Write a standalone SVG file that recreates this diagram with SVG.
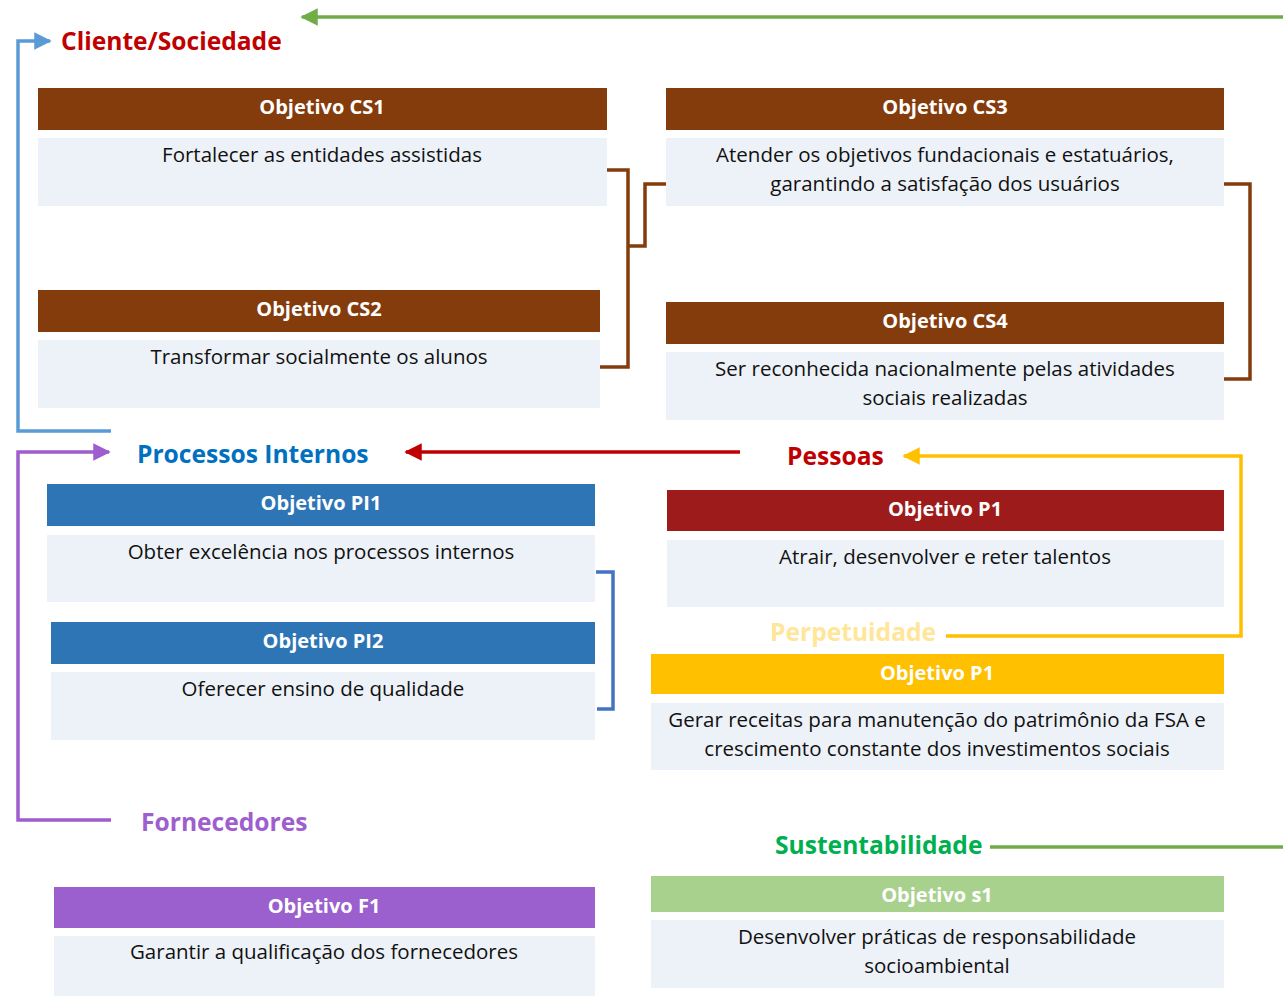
<svg xmlns="http://www.w3.org/2000/svg" width="1283" height="997" viewBox="0 0 1283 997">
<style>
.hd{font-family:"Open Sans","Liberation Sans",sans-serif;font-weight:bold;font-size:20px;fill:#fff;text-anchor:middle}
.bd{font-family:"Open Sans","Liberation Sans",sans-serif;font-size:20.5px;fill:#111;text-anchor:middle}
.body{fill:#EDF1F8}
.sec{font-family:"Open Sans","Liberation Sans",sans-serif;font-weight:bold;font-size:24.6px}
.ln{fill:none;stroke-width:3.5}
</style>
<defs>
<marker id="aB" viewBox="0 0 10 10" refX="9" refY="5" markerWidth="5" markerHeight="5" orient="auto" markerUnits="strokeWidth"><path d="M0,0 L10,5 L0,10z" fill="#5B9BD5"/></marker>
<marker id="aR" viewBox="0 0 10 10" refX="9" refY="5" markerWidth="5" markerHeight="5" orient="auto" markerUnits="strokeWidth"><path d="M0,0 L10,5 L0,10z" fill="#C00000"/></marker>
<marker id="aP" viewBox="0 0 10 10" refX="9" refY="5" markerWidth="5" markerHeight="5" orient="auto" markerUnits="strokeWidth"><path d="M0,0 L10,5 L0,10z" fill="#9E5ECE"/></marker>
<marker id="aY" viewBox="0 0 10 10" refX="9" refY="5" markerWidth="5" markerHeight="5" orient="auto" markerUnits="strokeWidth"><path d="M0,0 L10,5 L0,10z" fill="#FFC000"/></marker>
<marker id="aG" viewBox="0 0 10 10" refX="9" refY="5" markerWidth="5" markerHeight="5" orient="auto" markerUnits="strokeWidth"><path d="M0,0 L10,5 L0,10z" fill="#70AD47"/></marker>
</defs>
<rect width="1283" height="997" fill="#fff"/>

<g id="connectors">
<path class="ln" stroke="#70AD47" d="M1283,17 H302" marker-end="url(#aG)"/>
<path class="ln" stroke="#5B9BD5" d="M111,431 H18 V41 H50" marker-end="url(#aB)"/>
<path class="ln" stroke="#C00000" d="M740,452 H406" marker-end="url(#aR)"/>
<path class="ln" stroke="#9E5ECE" d="M111,820 H18 V452 H109" marker-end="url(#aP)"/>
<path class="ln" stroke="#FFC000" d="M946,636 H1241 V456 H904" marker-end="url(#aY)"/>
<path class="ln" stroke="#70AD47" d="M990,847 H1283"/>
<path class="ln" stroke="#843C0C" d="M607,170 H628 V367 H600 M628,246 H645 V184 H666"/>
<path class="ln" stroke="#843C0C" d="M1224,184 H1250 V379 H1224"/>
<path class="ln" stroke="#4472C4" d="M596,572 H613 V709 H597"/>
</g>

<g id="sec-cliente"><text class="sec" x="61" y="50" fill="#C00000">Cliente/Sociedade</text></g>
<g id="sec-processos"><text class="sec" x="137" y="463" fill="#0070C0">Processos Internos</text></g>
<g id="sec-pessoas"><text class="sec" x="787" y="465" fill="#C00000">Pessoas</text></g>
<g id="sec-perpetuidade"><text class="sec" x="770" y="641" fill="#FFE699">Perpetuidade</text></g>
<g id="sec-fornecedores"><text class="sec" x="141" y="831" fill="#9E5ECE">Fornecedores</text></g>
<g id="sec-sustentabilidade"><text class="sec" x="775" y="854" fill="#00B050">Sustentabilidade</text></g>

<g id="cs1">
<rect x="38" y="88" width="569" height="42" fill="#843C0C"/>
<text class="hd" x="322" y="114">Objetivo CS1</text>
<rect class="body" x="38" y="138" width="569" height="68"/>
<text class="bd" x="322" y="162">Fortalecer as entidades assistidas</text>
</g>
<g id="cs2">
<rect x="38" y="290" width="562" height="42" fill="#843C0C"/>
<text class="hd" x="319" y="316">Objetivo CS2</text>
<rect class="body" x="38" y="340" width="562" height="68"/>
<text class="bd" x="319" y="364">Transformar socialmente os alunos</text>
</g>
<g id="cs3">
<rect x="666" y="88" width="558" height="42" fill="#843C0C"/>
<text class="hd" x="945" y="114">Objetivo CS3</text>
<rect class="body" x="666" y="138" width="558" height="68"/>
<text class="bd" x="945" y="162">Atender os objetivos fundacionais e estatuários,</text>
<text class="bd" x="945" y="191">garantindo a satisfação dos usuários</text>
</g>
<g id="cs4">
<rect x="666" y="302" width="558" height="42" fill="#843C0C"/>
<text class="hd" x="945" y="328">Objetivo CS4</text>
<rect class="body" x="666" y="352" width="558" height="68"/>
<text class="bd" x="945" y="376">Ser reconhecida nacionalmente pelas atividades</text>
<text class="bd" x="945" y="405">sociais realizadas</text>
</g>
<g id="pi1">
<rect x="47" y="484" width="548" height="42" fill="#2E75B6"/>
<text class="hd" x="321" y="510">Objetivo PI1</text>
<rect class="body" x="47" y="535" width="548" height="67"/>
<text class="bd" x="321" y="559">Obter excelência nos processos internos</text>
</g>
<g id="pi2">
<rect x="51" y="622" width="544" height="42" fill="#2E75B6"/>
<text class="hd" x="323" y="648">Objetivo PI2</text>
<rect class="body" x="51" y="672" width="544" height="68"/>
<text class="bd" x="323" y="696">Oferecer ensino de qualidade</text>
</g>
<g id="p1">
<rect x="667" y="490" width="557" height="41" fill="#9E1B1B"/>
<text class="hd" x="945" y="516">Objetivo P1</text>
<rect class="body" x="667" y="540" width="557" height="67"/>
<text class="bd" x="945" y="564">Atrair, desenvolver e reter talentos</text>
</g>
<g id="pp1">
<rect x="651" y="654" width="573" height="40" fill="#FFC000"/>
<text class="hd" x="937" y="680">Objetivo P1</text>
<rect class="body" x="651" y="703" width="573" height="67"/>
<text class="bd" x="937" y="727">Gerar receitas para manutenção do patrimônio da FSA e</text>
<text class="bd" x="937" y="756">crescimento constante dos investimentos sociais</text>
</g>
<g id="f1">
<rect x="54" y="887" width="541" height="41" fill="#9B5FCE"/>
<text class="hd" x="324" y="913">Objetivo F1</text>
<rect class="body" x="54" y="936" width="541" height="60"/>
<text class="bd" x="324" y="959">Garantir a qualificação dos fornecedores</text>
</g>
<g id="s1">
<rect x="651" y="876" width="573" height="36" fill="#A9D18E"/>
<text class="hd" x="937" y="902">Objetivo s1</text>
<rect class="body" x="651" y="920" width="573" height="68"/>
<text class="bd" x="937" y="944">Desenvolver práticas de responsabilidade</text>
<text class="bd" x="937" y="973">socioambiental</text>
</g>
</svg>
